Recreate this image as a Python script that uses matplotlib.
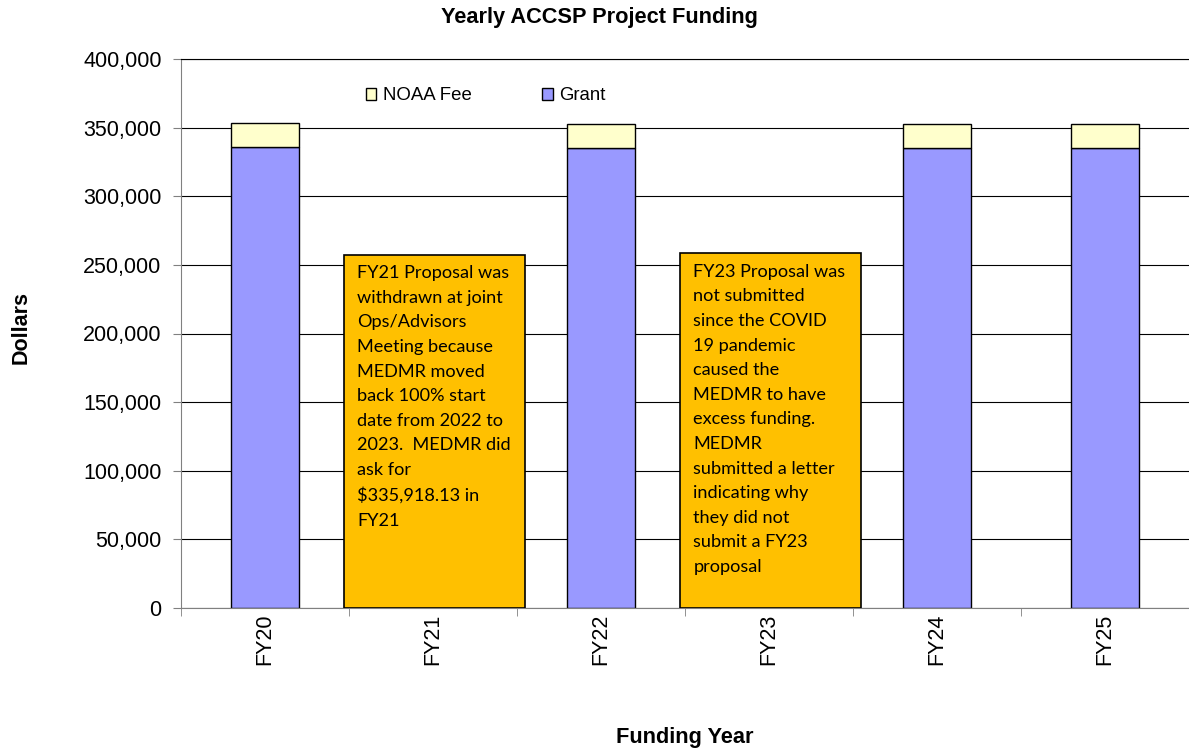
import matplotlib.pyplot as plt
import numpy as np

years = ["FY20", "FY21", "FY22", "FY23", "FY24", "FY25"]
grant = [336000, 0, 335300, 0, 335300, 335300]
noaa_fee = [17300, 0, 17000, 0, 17000, 17000]

note_fy21 = ("FY21 Proposal was\nwithdrawn at joint\nOps/Advisors\nMeeting because\n"
             "MEDMR moved\nback 100% start\ndate from 2022 to\n2023.  MEDMR did\n"
             "ask for\n$335,918.13 in\nFY21")
note_fy23 = ("FY23 Proposal was\nnot submitted\nsince the COVID\n19 pandemic\n"
             "caused the\nMEDMR to have\nexcess funding.\nMEDMR\nsubmitted a letter\n"
             "indicating why\nthey did not\nsubmit a FY23\nproposal")

plt.rcParams['font.family'] = ['Liberation Sans', 'DejaVu Sans']

fig = plt.figure(figsize=(11.89, 7.48), dpi=100)
ax = fig.add_axes([181/1189, 140/748, 1008/1189, 549/748])

x = np.arange(len(years))
ax.set_axisbelow(True)
ax.yaxis.grid(True, color='black', linewidth=0.8)
ax.bar(x, grant, width=0.4, color='#9999FF', edgecolor='black', linewidth=1, label='Grant', zorder=2)
ax.bar(x, noaa_fee, width=0.4, bottom=grant, color='#FFFFCC', edgecolor='black', linewidth=1,
       label='NOAA Fee', zorder=2)

# note boxes
for xc, top, txt in [(1, 257500, note_fy21), (3, 258500, note_fy23)]:
    ax.add_patch(plt.Rectangle((xc - 0.53, 0), 1.08, top, facecolor='#FFC000',
                               edgecolor='black', linewidth=1.2, zorder=3))
    ax.text(xc - 0.45, top - 7800, txt, family=['Lato', 'DejaVu Sans'], fontsize=13.1,
            va='top', ha='left', linespacing=1.66, zorder=4)

ax.set_xlim(-0.5, 5.5)
ax.set_ylim(0, 400000)
ax.set_yticks(np.arange(0, 400001, 50000))
ax.set_yticklabels([f"{v:,}" for v in range(0, 400001, 50000)], fontsize=15.5)
ax.set_xticks(x)
ax.set_xticklabels(years, rotation=90, fontsize=15.5)
ax.set_xticks(np.arange(-0.5, 5.6, 1), minor=True)
ax.tick_params(axis='x', which='major', length=0, pad=4)
ax.tick_params(axis='x', which='minor', length=6, color='#808080')
ax.tick_params(axis='y', length=6, color='#808080', pad=8)

ax.spines['right'].set_visible(False)
ax.spines['top'].set_linewidth(0.8)
ax.spines['left'].set_color('#808080')
ax.spines['bottom'].set_color('#808080')

h, l = ax.get_legend_handles_labels()
ax.legend(h[::-1], l[::-1], loc='center left', bbox_to_anchor=((366 - 181) / 1008, (608 - 96) / 549),
          ncol=2, frameon=False, fontsize=13.4, borderpad=0, borderaxespad=0,
          handlelength=0.55, handleheight=0.55, handletextpad=0.35, columnspacing=3.8)

fig.text(599/1189, 1 - 18/748, "Yearly ACCSP Project Funding", fontsize=15.7, fontweight='bold',
         ha='center', va='center')
ax.set_ylabel("Dollars", fontsize=15.5, fontweight='bold', va='center')
ax.yaxis.set_label_coords((21 - 181) / 1008, (608 - 328) / 549)
ax.set_xlabel("Funding Year", fontsize=15.7, fontweight='bold', va='center')
ax.xaxis.set_label_coords(0.5, (608 - 737) / 549)

fig.savefig("out.png", dpi=100)
